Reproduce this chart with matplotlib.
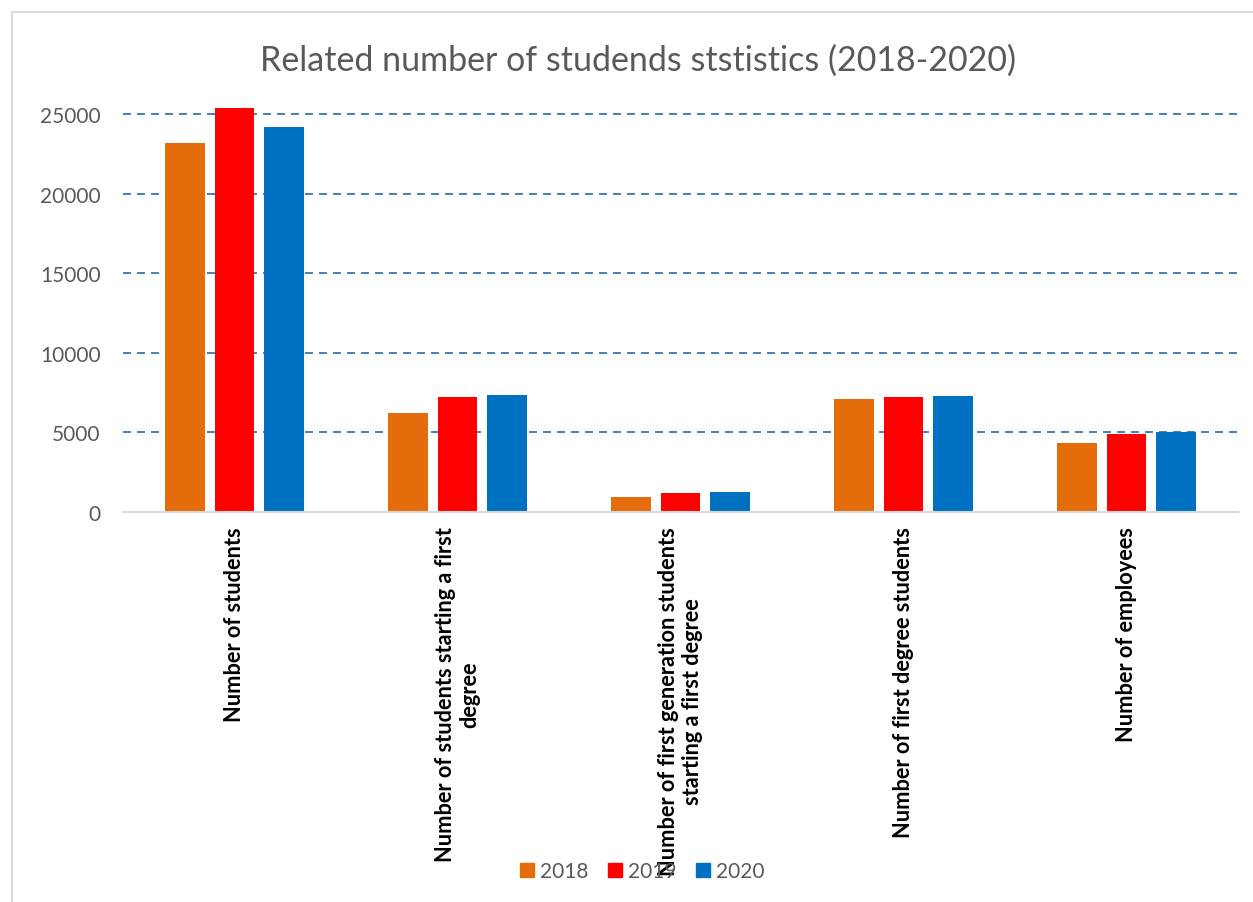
import matplotlib
matplotlib.use("Agg")
import matplotlib.pyplot as plt
from matplotlib.lines import Line2D
import numpy as np

categories = [
    "Number of students",
    "Number of students starting a first\ndegree",
    "Number of first generation students\nstarting a first degree",
    "Number of first degree students",
    "Number of employees",
]
years = ["2018", "2019", "2020"]
values_2018 = [23200, 6200, 920, 7100, 4350]
values_2019 = [25400, 7200, 1170, 7220, 4880]
values_2020 = [24200, 7350, 1240, 7300, 5020]
yticks = [0, 5000, 10000, 15000, 20000, 25000]
title = "Related number of studends ststistics (2018-2020)"

colors = ["#E46C0A", "#FF0000", "#0070C0"]
series = [values_2018, values_2019, values_2020]

plt.rcParams['font.family'] = ['Lato', 'DejaVu Sans']

W, H = 1253, 903
fig = plt.figure(figsize=(W / 100, H / 100), dpi=100)

ax_left, ax_right = 123 / W, 1238 / W
ax_bottom = (H - 513) / H
ymax = 26000
px_per_unit = 398 / 25000
ax_height = ymax * px_per_unit / H
ax = fig.add_axes([ax_left, ax_bottom, ax_right - ax_left, ax_height])

x = np.arange(len(categories))
bw = 0.175
offs = 0.222
for i, (vals, c, lab) in enumerate(zip(series, colors, years)):
    ax.bar(x + (i - 1) * offs, vals, width=bw, color=c, label=lab, zorder=3)

ax.set_xlim(-0.5, len(categories) - 0.5)
ax.set_ylim(0, ymax)
ax.set_yticks(yticks)
ax.set_yticklabels([str(t) for t in yticks], color="#595959", fontsize=15)
for t in yticks[1:]:
    ax.axhline(t, color="#4A7EBB", lw=1.4, linestyle=(0, (4.1, 3.1)), zorder=1)
ax.set_xticks(x)
ax.set_xticklabels(categories, rotation=90, fontsize=15.7, fontweight="bold",
                   ha="center", va="top", multialignment="center")
ax.tick_params(axis="both", length=0)
ax.tick_params(axis="x", pad=10)
ax.tick_params(axis="y", pad=16)
for s in ["top", "right", "left"]:
    ax.spines[s].set_visible(False)
ax.spines["bottom"].set_color("#D9D9D9")
ax.spines["bottom"].set_linewidth(1.5)
ax.spines["bottom"].set_zorder(4)

fig.text(638 / W, 1 - 61 / H, title, ha="center", va="center",
         fontsize=24.5, color="#595959")

handles = [Line2D([0], [0], marker="s", linestyle="none", markersize=10,
                  markerfacecolor=c, markeredgecolor=c) for c in colors]
fig.legend(handles, years, loc="center", bbox_to_anchor=(642 / W, 1 - 872 / H),
           ncol=3, frameon=False, fontsize=15, labelcolor="#595959",
           handletextpad=0.3, columnspacing=0.9, handlelength=0.7)

# chart border (top and left visible)
fig.add_artist(Line2D([12 / W, 1], [1 - 13 / H, 1 - 13 / H], color="#D9D9D9", lw=1.5,
                      transform=fig.transFigure))
fig.add_artist(Line2D([12 / W, 12 / W], [0, 1 - 13 / H], color="#D9D9D9", lw=1.5,
                      transform=fig.transFigure))

fig.savefig("out.png", dpi=100)
